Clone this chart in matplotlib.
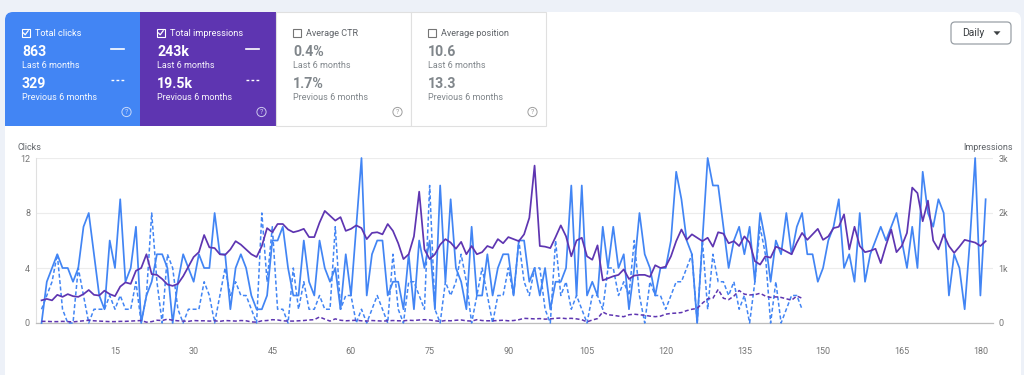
import matplotlib
matplotlib.use("Agg")
import matplotlib.pyplot as plt
from matplotlib.patches import FancyBboxPatch, Rectangle, Circle, Polygon
import numpy as np

plt.rcParams['font.family'] = ['Roboto', 'DejaVu Sans']

# ---------------- data ----------------
clicks_current = [
    0, 3, 4, 5, 4, 4, 3, 4, 7, 8,
    5, 2, 1, 6, 4, 9, 3, 4, 7, 0,
    2, 3, 5, 5, 4, 0, 3, 5, 4, 3,
    5, 4, 4, 8, 5, 5, 1, 4, 5, 4,
    2, 1, 1, 2, 6, 6, 7, 4, 2, 2,
    6, 3, 2, 6, 4, 3, 4, 1, 5, 2,
    7, 12, 2, 5, 6, 6, 2, 3, 3, 1,
    5, 1, 6, 4, 6, 1, 10, 3, 9, 4,
    3, 1, 7, 2, 2, 5, 2, 4, 5, 5,
    2, 6, 6, 3, 4, 2, 4, 1, 3, 3,
    4, 10, 2, 10, 2, 3, 2, 7, 4, 7,
    4, 5, 1, 4, 8, 5, 4, 2, 4, 4,
    6, 11, 9, 6, 5, 0, 6, 12, 10, 10,
    7, 4, 6, 7, 5, 7, 3, 8, 6, 3,
    6, 5, 8, 5, 7, 8, 5, 5, 3, 4,
    6, 7, 9, 4, 5, 3, 8, 3, 5, 6,
    7, 6, 7, 8, 6, 4, 7, 4, 11, 8,
    7, 9, 8, 2, 5, 4, 1, 6, 12, 2,
    9,
]

clicks_previous = [
    1, 2, 3, 5, 1, 0, 0, 4, 2, 0,
    1, 1, 1, 2, 1, 2, 1, 1, 3, 0,
    2, 8, 3, 0, 5, 4, 1, 0, 1, 1,
    1, 3, 2, 0, 2, 4, 2, 3, 2, 2,
    1, 0, 8, 3, 7, 1, 1, 0, 4, 1,
    3, 1, 1, 2, 1, 1, 7, 1, 2, 2,
    0, 1, 0, 1, 2, 1, 0, 5, 1, 0,
    3, 3, 2, 1, 10, 1, 0, 3, 2, 3,
    5, 3, 0, 2, 4, 2, 0, 2, 2, 4,
    2, 6, 3, 2, 4, 4, 1, 0, 6, 2,
    3, 1, 2, 1, 0, 2, 2, 1, 4, 4,
    2, 3, 2, 6, 2, 0, 3, 2, 2, 1,
    2, 3, 3, 4, 5, 0, 6, 1, 5, 3,
    3, 2, 3, 1, 2, 0, 3, 7, 5, 0,
    3, 0, 1, 2, 2, 1,
]

impressions_current = [
    412, 438, 412, 512, 475, 525, 488, 475, 525, 600,
    512, 500, 588, 525, 488, 662, 738, 712, 950, 1000,
    1250, 888, 875, 800, 700, 675, 712, 850, 1025, 1200,
    1288, 1600, 1375, 1362, 1250, 1238, 1338, 1488, 1425, 1338,
    1250, 1200, 1400, 1725, 1650, 1800, 1800, 1700, 1650, 1675,
    1712, 1562, 1562, 1825, 2038, 1950, 1862, 1925, 1675, 1712,
    1775, 1725, 1525, 1638, 1650, 1612, 1800, 1675, 1450, 1162,
    1250, 1575, 2388, 1338, 1162, 1250, 1425, 1525, 1462, 1350,
    1475, 1250, 1400, 1250, 1288, 1400, 1362, 1525, 1450, 1562,
    1525, 1488, 1612, 1912, 2862, 1400, 1388, 1362, 1562, 1775,
    1575, 1212, 1500, 1550, 1212, 1150, 1412, 775, 812, 850,
    875, 975, 800, 862, 875, 875, 838, 1050, 1000, 1025,
    1212, 1488, 1700, 1512, 1612, 1550, 1488, 1550, 1388, 1650,
    1625, 1450, 1488, 1400, 1575, 1462, 1125, 1062, 1212, 1188,
    1388, 1350, 1300, 1250, 1462, 1638, 1512, 1612, 1712, 1512,
    1575, 1725, 1750, 1975, 1338, 1750, 1400, 1288, 1312, 1350,
    1088, 1412, 1700, 1288, 1400, 1638, 2462, 2362, 1850, 2225,
    1500, 1338, 1612, 1400, 1275, 1388, 1512, 1488, 1462, 1400,
    1488,
]

impressions_previous = [
    30, 30, 25, 25, 30, 25, 20, 30, 40, 50,
    40, 35, 30, 25, 25, 30, 30, 35, 40, 45,
    15, 25, 50, 45, 70, 50, 40, 35, 30, 45,
    40, 40, 35, 40, 30, 45, 40, 35, 45, 40,
    20, 15, 40, 45, 60, 55, 40, 35, 35, 40,
    45, 55, 60, 110, 70, 35, 75, 50, 40, 45,
    50, 40, 35, 45, 40, 35, 40, 45, 40, 40,
    50, 45, 55, 60, 55, 40, 30, 45, 40, 50,
    55, 40, 35, 60, 45, 40, 40, 45, 50, 40,
    45, 60, 85, 80, 75, 80, 70, 75, 85, 90,
    80, 85, 75, 60, 20, 55, 80, 200, 150, 140,
    125, 115, 150, 160, 150, 140, 125, 115, 125, 160,
    175, 180, 190, 225, 250, 265, 360, 440, 450, 610,
    450, 425, 490, 590, 525, 510, 515, 540, 490, 465,
    475, 465, 440, 415, 490, 450,
]

x_ticks = [15, 30, 45, 60, 75, 90, 105, 120, 135, 150, 165, 180]
clicks_ticks = [0, 4, 8, 12]
impr_ticks = [0, 1000, 2000, 3000]
impr_tick_labels = ['0', '1k', '2k', '3k']

card_titles = ['Total clicks', 'Total impressions', 'Average CTR', 'Average position']
card_last = ['863', '243k', '0.4%', '10.6']
card_prev = ['329', '19.5k', '1.7%', '13.3']
card_checked = [True, True, False, False]

# ---------------- figure ----------------
W, H = 1024, 375
BLUE = '#4285F4'
PURPLE = '#5E35B1'
CARD_BLUE = '#4285F4'
CARD_PURPLE = '#5E35B1'
GRAY_TXT = '#757575'

fig = plt.figure(figsize=(W / 100, H / 100), dpi=100)
fig.patch.set_facecolor('#edf1f8')

bg = fig.add_axes([0, 0, 1, 1])
bg.set_xlim(0, W)
bg.set_ylim(H, 0)
bg.axis('off')

# white main card
bg.add_patch(FancyBboxPatch((5, 12), 1016, 380, boxstyle="round,pad=0,rounding_size=8",
                            fc='white', ec='none'))

# metric cards
card_x = [5, 140, 276, 411]
card_w = 135
card_top, card_bot = 12, 126
# card 1 (rounded top-left)
bg.add_patch(FancyBboxPatch((5, 12), card_w, card_bot - card_top,
                            boxstyle="round,pad=0,rounding_size=8", fc=CARD_BLUE, ec='none'))
bg.add_patch(Rectangle((20, 12), card_w - 15, card_bot - card_top, fc=CARD_BLUE, ec='none'))
bg.add_patch(Rectangle((5, 40), card_w, card_bot - 40, fc=CARD_BLUE, ec='none'))
bg.add_patch(Rectangle((140, 12), 136, card_bot - card_top, fc=CARD_PURPLE, ec='none'))
for cx in card_x[2:]:
    bg.add_patch(Rectangle((cx, 12), card_w, card_bot - card_top, fc='white',
                           ec='#e0e0e0', lw=0.8))

for i, cx in enumerate(card_x):
    filled = i < 2
    tcol = 'white' if filled else '#5f6368'
    vcol = 'white' if filled else '#80868b'
    scol = 'white' if filled else '#80868b'
    # checkbox
    bg.add_patch(Rectangle((cx + 16.5, 28.5), 8.5, 8.5, fc='none',
                           ec=('white' if filled else '#757575'), lw=0.8))
    if card_checked[i]:
        bg.plot([cx + 18.3, cx + 20.2, cx + 23.3], [32.8, 34.8, 30.6],
                color='white', lw=0.9, solid_capstyle='round')
    bg.text(cx + 30, 33, card_titles[i], fontsize=6.6, color=tcol, va='center', ha='left')
    bg.text(cx + 17, 52.5, card_last[i], fontsize=10.2, fontweight='bold', color=vcol,
            va='center', ha='left')
    bg.text(cx + 17, 65, 'Last 6 months', fontsize=6.5, color=scol, va='center', ha='left',
            alpha=0.95 if filled else 1)
    bg.text(cx + 17, 84, card_prev[i], fontsize=10.2, fontweight='bold', color=vcol,
            va='center', ha='left')
    bg.text(cx + 17, 97, 'Previous 6 months', fontsize=6.5, color=scol, va='center', ha='left',
            alpha=0.95 if filled else 1)
    # help icon
    hcol = '#e8eefc' if filled else '#9e9e9e'
    bg.add_patch(Circle((cx + 121.5, 112), 4.6, fc='none', ec=hcol, lw=0.7,
                        alpha=0.8 if filled else 1))
    bg.text(cx + 121.5, 112.3, '?', fontsize=5, color=hcol, ha='center', va='center',
            alpha=0.8 if filled else 1)
    if filled:
        bg.plot([cx + 106, cx + 119], [48.5, 48.5], color='white', lw=1.2)
        bg.plot([cx + 106, cx + 119], [80, 80], color='white', lw=1.0,
                linestyle=(0, (2.0, 1.6)))

# Daily button
bg.add_patch(FancyBboxPatch((951, 22), 60, 22, boxstyle="round,pad=0,rounding_size=4",
                            fc='white', ec='#9aa0a6', lw=0.9))
bg.text(962, 33.3, 'Daily', fontsize=7.5, color='#3c4043', va='center', ha='left')
bg.add_patch(Polygon([[993.5, 31.3], [1000.5, 31.3], [997, 35.2]], closed=True,
                     fc='#3c4043', ec='none'))

# axis titles
bg.text(17, 147, 'Clicks', fontsize=6.5, color='#5f6368', va='center', ha='left')
bg.text(1013, 147, 'Impressions', fontsize=6.5, color='#5f6368', va='center', ha='right')

# ---------------- chart ----------------
x0, x1 = 36.3, 993
ytop, ybot = 158, 323
ax = fig.add_axes([x0 / W, (H - ybot) / H, (x1 - x0) / W, (ybot - ytop) / H])
ax.patch.set_alpha(0)
days_cur = np.arange(1, len(clicks_current) + 1)
days_prev = np.arange(1, len(clicks_previous) + 1)
ax.set_xlim(0, (x1 - x0) / 5.245)
ax.set_ylim(0, 12)

ax.plot(days_cur, clicks_current, color=BLUE, lw=1.25, clip_on=False, zorder=3)
ax.plot(days_prev, clicks_previous, color=BLUE, lw=1.1, linestyle=(0, (2.6, 1.6)),
        clip_on=False, zorder=3)

for s in ['top', 'right']:
    ax.spines[s].set_visible(False)
ax.spines['left'].set_color('#e0e0e0')
ax.spines['left'].set_linewidth(0.8)
ax.spines['bottom'].set_color('#bdbdbd')
ax.spines['bottom'].set_linewidth(0.9)
ax.set_yticks(clicks_ticks)
ax.set_yticklabels([str(t) for t in clicks_ticks])
ax.set_xticks(x_ticks)
ax.set_xticklabels([str(t) for t in x_ticks])
ax.tick_params(axis='y', length=0, pad=4.5, labelsize=6.5, labelcolor=GRAY_TXT)
ax.tick_params(axis='x', length=0, pad=17, labelsize=6.5, labelcolor=GRAY_TXT)
ax.yaxis.grid(True, color='#ececec', lw=0.8)
ax.set_axisbelow(True)

ax2 = ax.twinx()
ax2.set_ylim(0, 3000)
ax2.plot(days_cur, impressions_current, color=PURPLE, lw=1.25, clip_on=False, zorder=3)
ax2.plot(days_prev, impressions_previous, color=PURPLE, lw=1.1, linestyle=(0, (2.6, 1.6)),
         clip_on=False, zorder=3)
for s in ['top', 'left', 'bottom', 'right']:
    ax2.spines[s].set_visible(False)
ax2.set_yticks(impr_ticks)
ax2.set_yticklabels(impr_tick_labels)
ax2.tick_params(axis='y', length=0, pad=4, labelsize=6.5, labelcolor=GRAY_TXT)

fig.savefig('out.png', dpi=100, facecolor=fig.get_facecolor())
